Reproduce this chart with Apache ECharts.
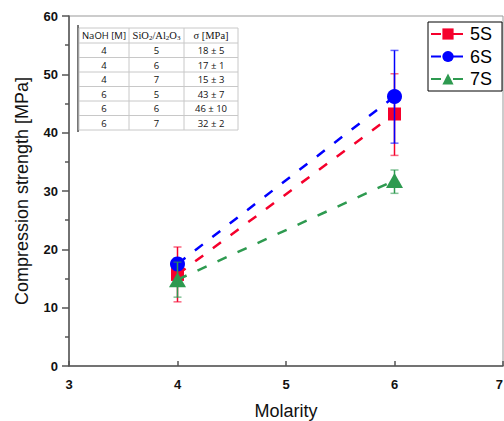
<!DOCTYPE html>
<html>
<head>
<meta charset="utf-8">
<script src="https://cdn.jsdelivr.net/npm/echarts@6/dist/echarts.min.js"></script>
<style>html,body{margin:0;padding:0;background:#fff}#c{width:504px;height:421px}</style>
</head>
<body>
<div id="c"></div>
<script>
// ---- data ----
const molarity = [4, 6];
const names = ['5S', '6S', '7S'];
const s5 = [15.7, 43.2];
const s5Lo = [11.0, 36.1];
const s5Hi = [20.4, 50.1];
const s6 = [17.5, 46.2];
const s6Lo = [16.5, 38.2];
const s6Hi = [18.5, 54.1];
const s7 = [14.8, 31.8];
const s7Lo = [11.8, 29.6];
const s7Hi = [17.8, 33.6];
const xTicks = [3, 4, 5, 6, 7];
const yTicks = [0, 10, 20, 30, 40, 50, 60];
const tableHeader = ['NaOH [M]', 'SiO{s|2}/Al{s|2}O{s|3}', 'σ [MPa]'];
const tableRows = [
  ['4', '5', '18 ± 5'],
  ['4', '6', '17 ± 1'],
  ['4', '7', '15 ± 3'],
  ['6', '5', '43 ± 7'],
  ['6', '6', '46 ± 10'],
  ['6', '7', '32 ± 2']
];

const colors = ['#f5002c', '#0000ff', '#2e9a50'];
const symbols = ['rect', 'circle', 'triangle'];
const symbolSizes = [13, 15, [17, 15]];
const vals = [s5, s6, s7];
const los = [s5Lo, s6Lo, s7Lo];
const his = [s5Hi, s6Hi, s7Hi];

const series = [];
names.forEach((n, i) => {
  series.push({
    name: n, type: 'line',
    data: molarity.map((m, k) => [m, vals[i][k]]),
    symbol: symbols[i], symbolSize: symbolSizes[i],
    lineStyle: { color: colors[i], width: 2.5, type: [10, 12] },
    itemStyle: { color: colors[i] },
    z: 2 + i * 2
  });
  series.push({
    name: n + ' err', type: 'custom',
    data: molarity.map((m, k) => [m, los[i][k], his[i][k]]),
    z: 3 + i * 2,
    renderItem: function (params, api) {
      const x = api.value(0);
      const a = api.coord([x, api.value(1)]);
      const b = api.coord([x, api.value(2)]);
      const c = colors[i];
      const hw = 4;
      return {
        type: 'group',
        children: [
          { type: 'line', shape: { x1: a[0], y1: a[1], x2: b[0], y2: b[1] }, style: { stroke: c, lineWidth: 1.5 } },
          { type: 'line', shape: { x1: a[0] - hw, y1: a[1], x2: a[0] + hw, y2: a[1] }, style: { stroke: c, lineWidth: 1.5, opacity: 0.6 } },
          { type: 'line', shape: { x1: b[0] - hw, y1: b[1], x2: b[0] + hw, y2: b[1] }, style: { stroke: c, lineWidth: 1.5, opacity: 0.6 } }
        ]
      };
    }
  });
});

// ---- table graphic ----
const colX = [79, 129, 184, 238];
const rowY = [28, 43, 57.5, 72, 86.5, 101, 115.5, 130];
const colC = [104, 156.5, 211];
const g = [];
g.push({ type: 'rect', shape: { x: 77, y: 24, width: 168, height: 109 }, style: { fill: '#fff' }, z: 50 });
g.push({ type: 'line', shape: { x1: 78, y1: 25, x2: 78, y2: 132 }, style: { stroke: '#777', lineWidth: 2 }, z: 51 });
rowY.forEach(y => g.push({ type: 'line', shape: { x1: colX[0], y1: y, x2: colX[3], y2: y }, style: { stroke: '#c8c8c8', lineWidth: 1 }, z: 51 }));
colX.forEach(x => g.push({ type: 'line', shape: { x1: x, y1: rowY[0], x2: x, y2: rowY[rowY.length - 1] }, style: { stroke: '#c8c8c8', lineWidth: 1 }, z: 51 }));
tableHeader.forEach((t, j) => {
  g.push({
    type: 'text', x: colC[j], y: (rowY[0] + rowY[1]) / 2, z: 52,
    style: {
      text: t, align: 'center', verticalAlign: 'middle',
      fontSize: j === 0 ? 9.5 : 10.5, fontFamily: j === 0 ? 'Open Sans' : 'Liberation Serif', fill: '#111',
      rich: { s: { fontSize: 7, fontFamily: 'Liberation Serif', verticalAlign: 'bottom', padding: [4, 0, 0, 0] } }
    }
  });
});
tableRows.forEach((r, i) => {
  r.forEach((t, j) => {
    g.push({
      type: 'text', x: colC[j], y: (rowY[i + 1] + rowY[i + 2]) / 2 + 0.5, z: 52,
      style: { text: t, align: 'center', verticalAlign: 'middle', fontSize: 9.5, fontFamily: 'Open Sans', fill: '#111' }
    });
  });
});

const chart = echarts.init(document.getElementById('c'), null, { renderer: 'svg' });
chart.setOption({
  animation: false,
  backgroundColor: '#fff',
  grid: { left: 69, top: 16, width: 434, height: 350, outerBoundsMode: 'none', containLabel: false, show: true, borderColor: '#999', borderWidth: 1, backgroundColor: 'transparent' },
  legend: {
    data: names, orient: 'vertical', left: 428, top: 22,
    borderColor: '#000', borderWidth: 1, padding: [3, 10, 3, 2],
    itemWidth: 34, itemHeight: 14, itemGap: 4.5,
    textStyle: { fontSize: 18, fontFamily: 'Liberation Sans', color: '#000' }
  },
  xAxis: {
    type: 'value', min: xTicks[0], max: xTicks[xTicks.length - 1], interval: 1,
    name: 'Molarity', nameLocation: 'middle', nameGap: 36,
    nameTextStyle: { fontSize: 18, fontFamily: 'Liberation Sans', color: '#111' },
    axisLine: { show: true, onZero: false, lineStyle: { color: '#555', width: 1.5 } },
    axisTick: { show: true, inside: true, length: 5, lineStyle: { color: '#555', width: 1.5 } },
    axisLabel: { margin: 12, fontSize: 13, fontWeight: 700, fontFamily: 'Liberation Sans', color: '#111', hideOverlap: false, alignMaxLabel: 'right' },
    splitLine: { show: false }
  },
  yAxis: {
    type: 'value', min: yTicks[0], max: yTicks[yTicks.length - 1], interval: 10,
    name: 'Compression strength [MPa]', nameLocation: 'middle', nameGap: 38,
    nameTextStyle: { fontSize: 18, fontFamily: 'Liberation Sans', color: '#111' },
    axisLine: { show: true, onZero: false, lineStyle: { color: '#555', width: 1.5 } },
    axisTick: { show: true, length: 7, lineStyle: { color: '#555', width: 1.5 } },
    minorTick: { show: true, splitNumber: 2, length: 4, lineStyle: { color: '#555', width: 1.5 } },
    axisLabel: { margin: 11, fontSize: 13, fontWeight: 700, fontFamily: 'Liberation Sans', color: '#111' },
    splitLine: { show: false }
  },
  graphic: g,
  series: series
});
</script>
</body>
</html>
